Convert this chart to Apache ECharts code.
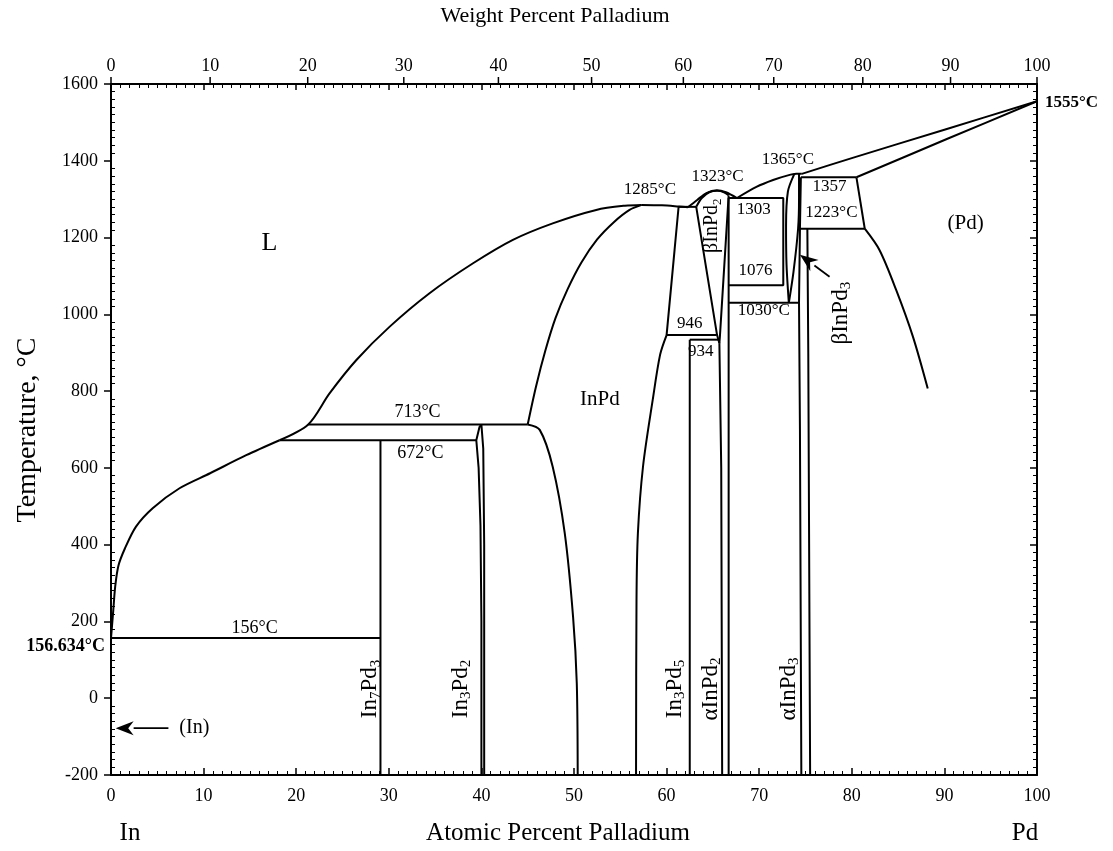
<!DOCTYPE html>
<html><head><meta charset="utf-8">
<script src="https://cdn.jsdelivr.net/npm/echarts@6/dist/echarts.min.js"></script>
<style>html,body{margin:0;padding:0;background:#fff}#c{width:1113px;height:851px}</style>
</head><body><div id="c"></div>
<script>
// ---- axis ticks ----
const wtTicks = [0,10,20,30,40,50,60,70,80,90,100];
const M_IN = 114.82, M_PD = 106.42;
function wtToAt(w){ const a=w/M_PD, b=(100-w)/M_IN; return a/(a+b)*100; }

// ---- phase boundaries [at.% Pd, T °C] ----
const liquidusIn = [[0,156.6],[0.25,230],[0.45,290],[0.8,345],[1.5,390],[2.7,447],[4.5,495],[7.4,547],[10.7,586],[14.6,633],[18.2,672]];
const liquidusMid = [[18.2,672],[21.3,713],[23.6,794],[26.5,881],[30.1,968],[34.4,1055],[39.1,1133],[43.4,1194],[47.7,1237],[52.4,1272],[55.5,1283],[57.3,1285]];
const liquidusInPdRight = [[57.3,1285],[59.5,1284],[61.3,1281],[62.3,1279]];
const liquidusInPd2 = [[62.3,1279],[63.3,1298],[64.3,1316],[65.4,1323],[66.4,1318],[67.6,1303]];
const liquidusInPd3 = [[67.6,1303],[69.7,1332],[71.5,1350],[73.1,1362],[74.0,1366],[74.6,1366]];
const liquidusPd = [[74.6,1366],[80,1407],[90,1481],[100,1555]];
const solidusPd = [[80.5,1357],[90.2,1456],[100,1555]];
const solvusPd = [[81.4,1223],[83.0,1167],[84.8,1063],[86.6,942],[88.2,807]];
const line1357 = [[74.5,1357],[80.5,1357]];
const box1357Right = [[80.5,1357],[81.4,1223]];
const line1223 = [[74.4,1223],[81.4,1223]];
const eut156 = [[0,156.6],[29.1,156.6]];
const in7pd3 = [[29.1,672],[29.1,-200]];
const line672 = [[18.2,672],[39.45,672]];
const line713 = [[21.3,713],[45.0,713]];
const in3pd2 = [[40.3,-200],[40.3,400],[40.2,650],[40.0,713],[39.8,707],[39.45,672],[39.7,600],[39.9,450],[40.0,200],[40.0,-200]];
const inPdSolidusLeft = [[45.0,713],[45.9,812],[46.9,905],[48.0,990],[49.3,1065],[50.8,1135],[52.5,1195],[54.3,1240],[56.0,1272],[57.3,1285]];
const inPdSolvusLeft = [[45.0,713],[46.3,699],[47.7,603],[49.0,430],[49.9,212],[50.3,39],[50.4,-200]];
const inPdRightUpper = [[61.3,1281],[60.0,946]];
const inPdRightLower = [[60.0,946],[59.3,895],[58.5,777],[57.45,603],[56.9,430],[56.75,256],[56.7,-200]];
const line1280 = [[61.3,1280],[63.2,1280]];
const line946 = [[60.0,946],[65.4,946]];
const line934 = [[62.5,934],[65.6,934]];
const in3pd5 = [[62.5,934],[62.5,-200]];
const betaInPd2Top = [[63.2,1280],[63.8,1303],[64.6,1318],[65.5,1322],[66.2,1318],[66.7,1310]];
const betaInPd2Left = [[63.2,1280],[65.45,946],[65.7,925]];
const betaInPd2Right = [[66.7,1310],[65.75,940],[65.7,925]];
const alphaInPd2Left = [[65.7,925],[65.9,600],[66.0,-200]];
const alphaInPd2Right = [[66.7,1303],[66.7,-200]];
const box1303 = [[66.7,1303],[72.6,1303],[72.6,1076],[66.7,1076]];
const line1030 = [[66.7,1030],[74.2,1030]];
const lensLeft = [[73.8,1366],[73.1,1320],[72.9,1230],[72.95,1130],[73.2,1030]];
const lensRight = [[74.3,1366],[74.3,1300],[74.2,1223],[73.7,1110],[73.2,1030]];
const alphaInPd3Left = [[74.5,1357],[74.4,1223],[74.3,1030],[74.4,700],[74.55,-200]];
const alphaInPd3Right = [[75.2,1223],[75.3,900],[75.5,-200]];

const boundaries = [
  [liquidusIn,true],[liquidusMid,true],[liquidusInPdRight,true],[liquidusInPd2,true],[liquidusInPd3,true],
  [liquidusPd,true],[solidusPd,true],[solvusPd,true],[line1357,false],[box1357Right,false],[line1223,false],
  [eut156,false],[in7pd3,false],[line672,false],[line713,false],[in3pd2,false],[inPdSolidusLeft,true],
  [inPdSolvusLeft,true],[inPdRightUpper,false],[inPdRightLower,true],[line1280,false],[line946,false],[line934,false],[in3pd5,false],
  [betaInPd2Top,true],[betaInPd2Left,false],[betaInPd2Right,false],[alphaInPd2Left,false],[alphaInPd2Right,false],
  [box1303,false],[line1030,false],[lensLeft,true],[lensRight,true],[alphaInPd3Left,false],[alphaInPd3Right,false]
];

const FONT = '"Liberation Serif", "Times New Roman", serif';
const rich = {
  n:{fontSize:23, fontFamily:FONT, lineHeight:26, verticalAlign:'middle'},
  s:{fontSize:15, fontFamily:FONT, lineHeight:15, verticalAlign:'bottom'},
  m:{fontSize:20, fontFamily:FONT, lineHeight:24, verticalAlign:'middle'},
  t:{fontSize:13, fontFamily:FONT, lineHeight:13, verticalAlign:'bottom'}
};
// annotations: [x, T, text, fontSize, rotated]
const notes = [
  [17.1,1186,'L',26,false],[92.3,1237,'(Pd)',21,false],[52.8,777,'InPd',21,false],
  [58.2,1324,'1285°C',17,false],[65.5,1360,'1323°C',17,false],[73.1,1402,'1365°C',17,false],
  [77.6,1334,'1357',17,false],[77.8,1264,'1223°C',17,false],[69.4,1274,'1303',17,false],
  [69.6,1113,'1076',17,false],[70.5,1009,'1030°C',17,false],[62.5,977,'946',17,false],[63.7,902,'934',17,false],
  [33.1,746,'713°C',18,false],[33.4,639,'672°C',18,false],[15.5,183,'156°C',18,false],[9.0,-78,'(In)',20,false],
  [28.0,24,'{n|In}{s|7}{n|Pd}{s|3}',0,true],[37.8,24,'{n|In}{s|3}{n|Pd}{s|2}',0,true],
  [60.9,24,'{n|In}{s|3}{n|Pd}{s|5}',0,true],[64.8,24,'{n|αInPd}{s|2}',0,true],[73.2,24,'{n|αInPd}{s|3}',0,true],
  [64.9,1231,'{m|βInPd}{t|2}',0,true],[78.8,1003,'{n|βInPd}{s|3}',0,true]
];
const arrows = [[6.2,-78,0.5,-78],[77.6,1098,74.4,1155]];

const series = boundaries.map(([d,s]) => ({
  type:'line', data:d, xAxisIndex:0, yAxisIndex:0, smooth:s?0.3:false, symbol:'none', showSymbol:false,
  lineStyle:{color:'#000', width:2}, silent:true, animation:false, z:3
}));

series.push({
  type:'custom', xAxisIndex:0, yAxisIndex:0, silent:true, animation:false, clip:false, z:5,
  data: wtTicks.map(w => [wtToAt(w), 1600, w]),
  renderItem:(params, api) => {
    const p = api.coord([api.value(0), 1600]);
    return {type:'group', children:[
      {type:'line', shape:{x1:p[0], y1:p[1], x2:p[0], y2:p[1]-7}, style:{stroke:'#000', lineWidth:1.5}},
      {type:'text', x:p[0], y:p[1]-9, style:{text:String(api.value(2)), font:'18px '+FONT, fill:'#000', align:'center', verticalAlign:'bottom'}}
    ]};
  }
});

series.push({
  type:'custom', xAxisIndex:0, yAxisIndex:0, silent:true, animation:false, clip:false, z:6,
  data: notes.map((n,i) => [n[0], n[1], i]),
  renderItem:(params, api) => {
    const n = notes[params.dataIndex];
    const p = api.coord([n[0], n[1]]);
    const style = n[4] ? {text:n[2], rich:rich, fill:'#000', align:'center', verticalAlign:'middle'}
                       : {text:n[2], font:n[3]+'px '+FONT, fill:'#000', align:'center', verticalAlign:'middle'};
    return {type:'text', x:p[0], y:p[1], rotation:n[4]?Math.PI/2:0, style:style};
  }
});

series.push({
  type:'custom', xAxisIndex:0, yAxisIndex:0, silent:true, animation:false, clip:false, z:6,
  data: arrows.map((a,i) => [a[2], a[3], i]),
  renderItem:(params, api) => {
    const a = arrows[params.dataIndex];
    const t = api.coord([a[0], a[1]]), h = api.coord([a[2], a[3]]);
    const dx = h[0]-t[0], dy = h[1]-t[1], L = Math.hypot(dx,dy), ux = dx/L, uy = dy/L;
    const hl = 18, hw = 7;
    const bx = h[0]-ux*hl, by = h[1]-uy*hl;
    return {type:'group', children:[
      {type:'line', shape:{x1:t[0], y1:t[1], x2:bx, y2:by}, style:{stroke:'#000', lineWidth:1.8}},
      {type:'polygon', shape:{points:[[h[0],h[1]],[bx-uy*hw,by+ux*hw],[h[0]-ux*hl*0.7,h[1]-uy*hl*0.7],[bx+uy*hw,by-ux*hw]]}, style:{fill:'#000'}}
    ]};
  }
});

// special labels
series.push({
  type:'custom', xAxisIndex:0, yAxisIndex:0, silent:true, animation:false, clip:false, z:6,
  data:[[0,156.634,0],[100,1555,1]],
  renderItem:(params, api) => {
    const p = api.coord([api.value(0), api.value(1)]);
    if (api.value(2) === 0) {
      return {type:'text', x:p[0]-6, y:p[1]+8, style:{text:'156.634°C', font:'bold 18px '+FONT, fill:'#000', align:'right', verticalAlign:'middle'}};
    }
    return {type:'text', x:p[0]+8, y:p[1]+1, style:{text:'1555°C', font:'bold 17px '+FONT, fill:'#000', align:'left', verticalAlign:'middle'}};
  }
});

const axisLine = {show:true, onZero:false, lineStyle:{color:'#000', width:2}};
const chart = echarts.init(document.getElementById('c'), null, {renderer:'canvas'});
chart.setOption({
  backgroundColor:'#fff',
  animation:false,
  grid:{left:111, right:76, top:84, bottom:76, containLabel:false},
  xAxis:[
    {type:'value', position:'bottom', min:0, max:100, interval:10, axisLine:axisLine,
     axisTick:{show:true, inside:true, length:7, lineStyle:{color:'#000', width:1.5}},
     minorTick:{show:true, splitNumber:10, length:4, lineStyle:{color:'#000', width:1}},
     axisLabel:{color:'#000', fontSize:18, fontFamily:FONT, margin:12, formatter:v=>String(v)},
     splitLine:{show:false}, minorSplitLine:{show:false}},
    {type:'value', position:'top', min:0, max:100, interval:10, axisLine:axisLine,
     axisTick:{show:true, inside:true, length:6, lineStyle:{color:'#000', width:1.5}},
     minorTick:{show:true, splitNumber:10, length:4, lineStyle:{color:'#000', width:1}},
     axisLabel:{show:false}, splitLine:{show:false}}
  ],
  yAxis:[
    {type:'value', position:'left', min:-200, max:1600, interval:200, axisLine:axisLine,
     axisTick:{show:true, inside:false, length:7, lineStyle:{color:'#000', width:1.5}},
     axisLabel:{color:'#000', fontSize:18, fontFamily:FONT, margin:13, formatter:v=>String(v)},
     splitLine:{show:false}},
    {type:'value', position:'left', offset:0, min:-200, max:1600, interval:200, axisLine:{show:false, onZero:false},
     axisTick:{show:false, inside:true},
     minorTick:{show:true, splitNumber:10, length:4, lineStyle:{color:'#000', width:1}},
     axisLabel:{show:false}, splitLine:{show:false}},
    {type:'value', position:'right', min:-200, max:1600, interval:200, axisLine:axisLine,
     axisTick:{show:true, inside:true, length:7, lineStyle:{color:'#000', width:1.5}},
     minorTick:{show:true, splitNumber:10, length:4, lineStyle:{color:'#000', width:1}},
     axisLabel:{show:false}, splitLine:{show:false}}
  ],
  graphic:[
    {type:'text', x:555, y:16, style:{text:'Weight Percent Palladium', font:'22px '+FONT, fill:'#000', align:'center', verticalAlign:'middle'}},
    {type:'text', x:558, y:833, style:{text:'Atomic Percent Palladium', font:'25px '+FONT, fill:'#000', align:'center', verticalAlign:'middle'}},
    {type:'text', x:130, y:833, style:{text:'In', font:'25px '+FONT, fill:'#000', align:'center', verticalAlign:'middle'}},
    {type:'text', x:1025, y:833, style:{text:'Pd', font:'25px '+FONT, fill:'#000', align:'center', verticalAlign:'middle'}},
    {type:'text', x:28, y:430, rotation:Math.PI/2, style:{text:'Temperature, °C', font:'28px '+FONT, fill:'#000', align:'center', verticalAlign:'middle'}}
  ],
  series:series
});
</script>
</body></html>
